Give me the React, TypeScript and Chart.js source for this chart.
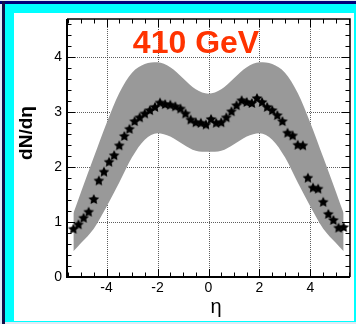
import React, { useEffect, useRef } from "react";
import { Chart, registerables } from "chart.js";

Chart.register(...registerables);

// Pseudorapidity of the measured points
const etaPoints = [
  -5.3, -5.1, -4.9, -4.7, -4.5, -4.3, -4.1, -3.9, -3.7, -3.5, -3.3, -3.1, -2.9, -2.7,
  -2.5, -2.3, -2.1, -1.9, -1.7, -1.5, -1.3, -1.1, -0.9, -0.7, -0.5, -0.3, -0.1, 0.1,
  0.3, 0.5, 0.7, 0.9, 1.1, 1.3, 1.5, 1.7, 1.9, 2.1, 2.3, 2.5, 2.7, 2.9, 3.1, 3.3,
  3.5, 3.7, 3.9, 4.1, 4.3, 4.5, 4.7, 4.9, 5.1, 5.3,
];
// dN/deta at each point
const dndetaPoints = [
  0.88, 0.96, 1.08, 1.19, 1.42, 1.76, 1.92, 2.1, 2.22, 2.4, 2.57, 2.7, 2.84, 2.91,
  2.98, 3.04, 3.1, 3.18, 3.15, 3.14, 3.11, 3.07, 2.98, 2.87, 2.82, 2.81, 2.78, 2.88,
  2.81, 2.82, 2.91, 3.02, 3.13, 3.22, 3.19, 3.17, 3.26, 3.19, 3.1, 3.04, 2.95, 2.84,
  2.63, 2.58, 2.41, 2.4, 1.81, 1.63, 1.61, 1.37, 1.15, 1.04, 0.9, 0.91,
];

// Model uncertainty band
const bandEta = [
  -5.3, -5.0, -4.5, -4.0, -3.5, -3.0, -2.5, -2.0, -1.5, -1.0, -0.5, 0,
  0.5, 1.0, 1.5, 2.0, 2.5, 3.0, 3.5, 4.0, 4.5, 5.0, 5.3,
];
const bandUpper = [
  1.16, 1.55, 2.18, 2.8, 3.35, 3.72, 3.88, 3.91, 3.82, 3.62, 3.42, 3.34,
  3.42, 3.62, 3.82, 3.91, 3.88, 3.72, 3.35, 2.8, 2.18, 1.55, 1.16,
];
const bandLower = [
  0.47, 0.62, 0.88, 1.28, 1.72, 2.18, 2.5, 2.62, 2.56, 2.42, 2.3, 2.28,
  2.3, 2.42, 2.56, 2.62, 2.5, 2.18, 1.72, 1.28, 0.88, 0.62, 0.47,
];

const xTickValues = [-4, -2, 0, 2, 4];
const yTickValues = [0, 1, 2, 3, 4];
const xGridValues = [-4, -2, 0, 2, 4];
const yGridValues = [1, 2, 3, 4];
const xMinorStep = 0.5;
const yMinorStep = 0.2;

const energyLabel = "410 GeV";
const xAxisTitle = "η";
const yAxisTitle = "dN/dη";

const FONT = "'Liberation Sans', Arial, Helvetica, sans-serif";

function makeStar(r: number): HTMLCanvasElement {
  const size = Math.ceil(r * 2 + 2);
  const c = document.createElement("canvas");
  c.width = size;
  c.height = size;
  const g = c.getContext("2d")!;
  const cx = size / 2;
  const cy = size / 2 + 0.5;
  g.beginPath();
  for (let i = 0; i < 10; i++) {
    const rad = i % 2 === 0 ? r : r * 0.5;
    const a = -Math.PI / 2 + (i * Math.PI) / 5;
    const px = cx + rad * Math.cos(a);
    const py = cy + rad * Math.sin(a);
    if (i === 0) g.moveTo(px, py);
    else g.lineTo(px, py);
  }
  g.closePath();
  g.fillStyle = "#000";
  g.fill();
  return c;
}

const decorPlugin = {
  id: "decor",
  beforeDatasetsDraw(chart: any) {
    const { ctx, chartArea, scales } = chart;
    const { left, right, top, bottom } = chartArea;
    const xs = scales.x;
    const ys = scales.y;
    ctx.save();
    ctx.strokeStyle = "rgba(40,40,40,0.75)";
    ctx.lineWidth = 1;
    ctx.setLineDash([1, 1]);
    for (const v of xGridValues) {
      const px = Math.round(xs.getPixelForValue(v)) + 0.5;
      ctx.beginPath();
      ctx.moveTo(px, top);
      ctx.lineTo(px, bottom);
      ctx.stroke();
    }
    for (const v of yGridValues) {
      const py = Math.round(ys.getPixelForValue(v)) + 0.5;
      ctx.beginPath();
      ctx.moveTo(left, py);
      ctx.lineTo(right, py);
      ctx.stroke();
    }
    ctx.restore();
  },
  afterDatasetsDraw(chart: any) {
    const { ctx, chartArea, scales } = chart;
    const { left, right, top, bottom } = chartArea;
    const xs = scales.x;
    const ys = scales.y;
    ctx.save();
    ctx.setLineDash([]);
    ctx.strokeStyle = "#000";

    // inward tick marks on all four sides
    ctx.lineWidth = 1;
    const xMin = xs.min, xMax = xs.max, yMin = ys.min, yMax = ys.max;
    const startX = Math.ceil(xMin / xMinorStep) * xMinorStep;
    for (let v = startX; v <= xMax + 1e-9; v += xMinorStep) {
      const isMajor = Math.abs(v / 2 - Math.round(v / 2)) < 1e-6;
      const len = isMajor ? 8 : 4.5;
      const px = Math.round(xs.getPixelForValue(v)) + 0.5;
      ctx.beginPath();
      ctx.moveTo(px, bottom);
      ctx.lineTo(px, bottom - len);
      ctx.moveTo(px, top);
      ctx.lineTo(px, top + len);
      ctx.stroke();
    }
    const startY = Math.ceil(yMin / yMinorStep) * yMinorStep;
    for (let v = startY; v <= yMax + 1e-9; v += yMinorStep) {
      const isMajor = Math.abs(v - Math.round(v)) < 1e-6;
      const len = isMajor ? 8 : 4.5;
      const py = Math.round(ys.getPixelForValue(v)) + 0.5;
      ctx.beginPath();
      ctx.moveTo(left, py);
      ctx.lineTo(left + len, py);
      ctx.moveTo(right, py);
      ctx.lineTo(right - len, py);
      ctx.stroke();
    }

    // frame
    ctx.lineWidth = 2;
    ctx.beginPath();
    ctx.moveTo(left, top);
    ctx.lineTo(left, bottom);
    ctx.lineTo(right, bottom);
    ctx.stroke();
    ctx.lineWidth = 1.5;
    ctx.beginPath();
    ctx.moveTo(left, top);
    ctx.lineTo(right, top);
    ctx.lineTo(right, bottom);
    ctx.stroke();

    // energy label
    ctx.fillStyle = "#ff3300";
    ctx.font = `bold 32px ${FONT}`;
    ctx.textAlign = "center";
    ctx.textBaseline = "alphabetic";
    ctx.fillText(energyLabel, left + 129, top + 34);

    // axis titles
    ctx.fillStyle = "#000";
    ctx.font = `20px ${FONT}`;
    ctx.fillText(xAxisTitle, 216, bottom + 36);

    ctx.translate(27, 133);
    ctx.rotate(-Math.PI / 2);
    ctx.font = `bold 19px ${FONT}`;
    ctx.textBaseline = "middle";
    ctx.fillText(yAxisTitle, 0, 0);
    ctx.restore();
  },
};

export default function App() {
  const canvasRef = useRef<HTMLCanvasElement | null>(null);

  useEffect(() => {
    document.body.style.margin = "0";
    const canvas = canvasRef.current;
    if (!canvas) return;
    const star = makeStar(5.6);

    const chart = new Chart(canvas, {
      type: "line",
      data: {
        datasets: [
          {
            label: "lower",
            data: bandEta.map((x, i) => ({ x, y: bandLower[i] })),
            borderWidth: 0,
            pointRadius: 0,
            fill: false,
            order: 2,
            cubicInterpolationMode: "monotone",
            borderColor: "rgba(0,0,0,0)",
          },
          {
            label: "upper",
            data: bandEta.map((x, i) => ({ x, y: bandUpper[i] })),
            borderWidth: 0,
            pointRadius: 0,
            fill: "-1",
            order: 1,
            backgroundColor: "#999999",
            borderColor: "rgba(0,0,0,0)",
            cubicInterpolationMode: "monotone",
          },
          {
            label: "data",
            data: etaPoints.map((x, i) => ({ x, y: dndetaPoints[i] })),
            showLine: false,
            order: 0,
            pointStyle: star as any,
            pointRadius: 6,
            borderWidth: 0,
          },
        ],
      },
      options: {
        animation: false,
        responsive: false,
        maintainAspectRatio: false,
        layout: { padding: { left: 14, right: 4, top: 19, bottom: 3 } },
        plugins: {
          legend: { display: false },
          tooltip: { enabled: false },
          filler: { propagate: false },
        },
        scales: {
          x: {
            type: "linear",
            min: -5.55,
            max: 5.55,
            grid: { display: false, drawTicks: false },
            border: { display: false },
            afterBuildTicks: (s: any) => {
              s.ticks = xTickValues.map((value) => ({ value }));
            },
            afterFit: (s: any) => {
              s.height = 44;
            },
            ticks: {
              font: { family: FONT, size: 14 },
              color: "#000",
              padding: 3,
              maxRotation: 0,
              autoSkip: false,
              callback: (v: any) => String(v),
            },
          },
          y: {
            type: "linear",
            min: 0,
            max: 4.7,
            grid: { display: false, drawTicks: false },
            border: { display: false },
            afterBuildTicks: (s: any) => {
              s.ticks = yTickValues.map((value) => ({ value }));
            },
            afterFit: (s: any) => {
              s.width = 53;
            },
            ticks: {
              font: { family: FONT, size: 14 },
              color: "#000",
              padding: 5,
              autoSkip: false,
              callback: (v: any) => String(v),
            },
          },
        },
      },
      plugins: [decorPlugin],
    });
    return () => chart.destroy();
  }, []);

  return (
    <div
      style={{
        position: "fixed",
        left: 0,
        top: 0,
        width: 356,
        height: 324,
        background: "#dfeaf5",
        overflow: "hidden",
      }}
    >
      <div style={{ position: "absolute", left: 0, top: 1, width: 356, height: 3, background: "#00007a" }} />
      <div style={{ position: "absolute", left: 2, top: 1, width: 3, height: 323, background: "#10104a" }} />
      <div style={{ position: "absolute", left: 5, top: 4, width: 351, height: 318, background: "#00ffff" }} />
      <div style={{ position: "absolute", left: 14, top: 13, width: 340, height: 308, background: "#ffffff" }} />
      <canvas
        ref={canvasRef}
        width={356}
        height={324}
        style={{ position: "absolute", left: 0, top: 0, display: "block" }}
      />
    </div>
  );
}
